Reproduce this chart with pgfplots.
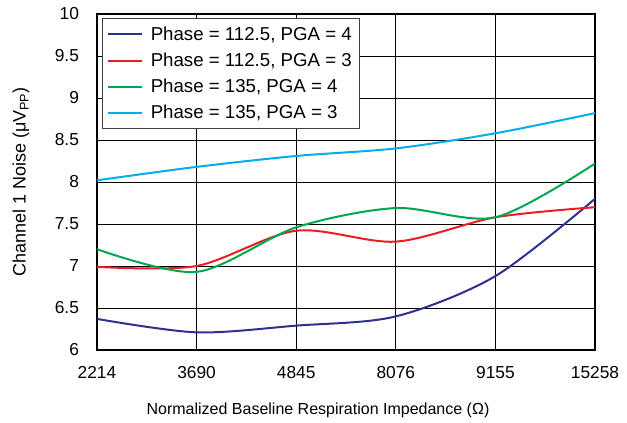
\documentclass[border=0pt]{standalone}
\usepackage{fontspec}
\setmainfont{Liberation Sans}
\usepackage{pgfplots}
\pgfplotsset{compat=1.18}
\definecolor{cblue}{RGB}{46,49,146}
\definecolor{cred}{RGB}{237,28,36}
\definecolor{cgreen}{RGB}{0,166,81}
\definecolor{ccyan}{RGB}{0,174,239}
\begin{document}
\begin{tikzpicture}
\begin{axis}[
  scale only axis, width=373.5pt, height=252pt,
  xmin=0, xmax=5, ymin=6, ymax=10,
  xtick={0,1,2,3,4,5},
  xticklabels={2214,3690,4845,8076,9155,15258},
  ytick={6,6.5,7,7.5,8,8.5,9,9.5,10},
  grid=major,
  major grid style={black, line width=0.6pt},
  axis line style={line width=1.6pt},
  tick style={draw=none},
  /pgf/number format/assume math mode=true,
  ticklabel style={font=\fontsize{13}{15}\selectfont},
  xticklabel style={yshift=-9pt},
  yticklabel style={xshift=-10pt},
  xlabel={Normalized Baseline Respiration Impedance (Ω)},
  ylabel={Channel 1 Noise (μV\textsubscript{PP})},
  xlabel style={font=\fontsize{12}{14}\selectfont, at={(rel axis cs:0.5,0)}, anchor=center, yshift=-45.5pt, xshift=-21pt},
  ylabel style={font=\fontsize{13.5}{15}\selectfont, at={(rel axis cs:0,0.5)}, anchor=center, yshift=57pt},
  legend style={at={(0.01,0.988)}, anchor=north west, draw=black!75, line width=1pt,
    font=\fontsize{14}{16}\selectfont, row sep=2pt, inner sep=3pt,
    nodes={inner sep=3pt},
    /tikz/every odd column/.append style={column sep=3pt}},
  legend image code/.code={\draw[#1] plot coordinates {(0cm,0cm) (0.45cm,0cm) (0.9cm,0cm)};},
  legend cell align=left,
  every axis plot/.append style={line width=1.5pt, smooth, tension=0.5},
]
\addplot[cblue] coordinates {(0,6.37) (1,6.21) (2,6.29) (3,6.40) (4,6.88) (5,7.80)};
\addlegendentry{Phase = 112.5, PGA = 4}
\addplot[cred] coordinates {(0,6.99) (1,7.00) (2,7.42) (3,7.29) (4,7.58) (5,7.70)};
\addlegendentry{Phase = 112.5, PGA = 3}
\addplot[cgreen] coordinates {(0,7.20) (1,6.93) (2,7.46) (3,7.69) (4,7.58) (5,8.22)};
\addlegendentry{Phase = 135, PGA = 4}
\addplot[ccyan] coordinates {(0,8.02) (1,8.18) (2,8.31) (3,8.40) (4,8.58) (5,8.82)};
\addlegendentry{Phase = 135, PGA = 3}
\end{axis}
\path (0,0) ++(-72.75pt,-52.5pt);
\path (373.5pt,252pt) ++(24pt,10.5pt);
\end{tikzpicture}
\end{document}
